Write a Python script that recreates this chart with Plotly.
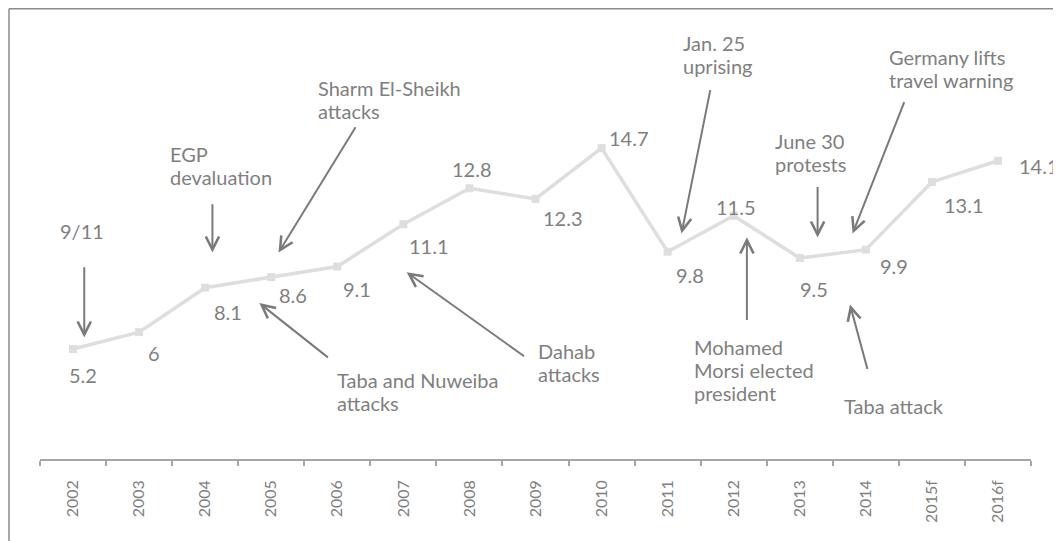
import plotly.graph_objects as go

years = ["2002", "2003", "2004", "2005", "2006", "2007", "2008", "2009",
         "2010", "2011", "2012", "2013", "2014", "2015f", "2016f"]
values = [5.2, 6, 8.1, 8.6, 9.1, 11.1, 12.8, 12.3, 14.7, 9.8, 11.5, 9.5, 9.9, 13.1, 14.1]
value_labels = ["5.2", "6", "8.1", "8.6", "9.1", "11.1", "12.8", "12.3", "14.7",
                "9.8", "11.5", "9.5", "9.9", "13.1", "14.1"]
# label offsets (pixels) relative to each point
label_dx = [10, 15, 23, 22, 20, 26, 3, 27, 27, 22, 2, 14, 28, 32, 41]
label_dy = [-26, -21, -24, -18, -22, -22, 19, -19, 10, -23, 9, -31, -16, -23, -5]

events = [["9/11"], ["EGP", "devaluation"], ["Sharm El-Sheikh", "attacks"],
          ["Taba and Nuweiba", "attacks"], ["Dahab", "attacks"], ["Jan. 25", "uprising"],
          ["Mohamed", "Morsi elected", "president"], ["June 30", "protests"],
          ["Germany lifts", "travel warning"], ["Taba attack"]]
# first-line anchor (x index, y value), xanchor
event_text_pos = [(0.14, 10.8, "center"), (1.43, 14.44, "left"), (3.67, 17.56, "left"),
                  (3.96, 3.73, "left"), (7.0, 5.10, "left"), (9.2, 19.68, "left"),
                  (9.37, 5.29, "left"), (10.59, 15.05, "left"), (12.32, 18.99, "left"),
                  (11.64, 2.49, "left")]
# arrow tail (x, y) and tip (x, y)
event_arrows = [((0.17, 9.14), (0.17, 5.74)), ((2.11, 12.12), (2.11, 9.76)),
                ((4.29, 15.76), (3.11, 9.76)), ((3.88, 4.75), (2.82, 7.37)),
                ((6.85, 4.81), (5.05, 8.83)), ((9.65, 17.51), (9.21, 10.66)),
                ((10.2, 6.5), (10.2, 10.48)), ((11.27, 12.93), (11.27, 10.47)),
                ((12.59, 16.94), (11.8, 10.66)), ((12.03, 4.18), (11.76, 7.3))]

FONT = "Lato"
TXT = "#7f7f7f"
ARROW = "#7a7a7a"
LINE_GAP = 23

fig = go.Figure()
fig.add_trace(go.Scatter(
    x=years, y=values, mode="lines+markers",
    line=dict(color="#dedede", width=3.5),
    marker=dict(symbol="square", size=8, color="#dedede"),
    hoverinfo="skip", showlegend=False,
))

annotations = []
for i, (yr, v, lab) in enumerate(zip(years, values, value_labels)):
    annotations.append(dict(x=i, y=v, xref="x", yref="y", text=lab, showarrow=False,
                            xshift=label_dx[i], yshift=label_dy[i],
                            font=dict(family=FONT, size=20, color=TXT)))

for lines, (tx, ty, anc), (tail, tip) in zip(events, event_text_pos, event_arrows):
    for k, line in enumerate(lines):
        annotations.append(dict(x=tx, y=ty, xref="x", yref="y", text=line, showarrow=False,
                                xanchor=anc, yshift=-LINE_GAP * k,
                                font=dict(family=FONT, size=20, color=TXT)))
    annotations.append(dict(x=tip[0], y=tip[1], ax=tail[0], ay=tail[1],
                            xref="x", yref="y", axref="x", ayref="y", text="",
                            showarrow=True, arrowhead=5, arrowsize=1.3, arrowwidth=2,
                            arrowcolor=ARROW, standoff=0, startstandoff=0))

fig.update_layout(
    width=1053, height=533,
    margin=dict(l=32, r=30, t=28, b=82),
    paper_bgcolor="white", plot_bgcolor="white",
    annotations=annotations,
    xaxis=dict(type="category", showline=True, linecolor="#a6a6a6", linewidth=1.5,
               ticks="outside", ticklen=5, tickcolor="#a6a6a6", tickwidth=1.5,
               tickson="boundaries", tickangle=-90, showgrid=False, zeroline=False,
               ticklabelstandoff=13,
               tickfont=dict(family=FONT, size=16, color=TXT), range=[-0.5, 14.5]),
    yaxis=dict(visible=False, range=[0, 20], showgrid=False, zeroline=False),
    shapes=[
        dict(type="line", xref="paper", yref="paper", x0=-0.0313, x1=-0.0313,
             y0=-0.5, y1=1.0645, line=dict(color="#8c8c8c", width=1.5)),
        dict(type="line", xref="paper", yref="paper", x0=-0.0313, x1=1.2,
             y0=1.0645, y1=1.0645, line=dict(color="#8c8c8c", width=1.5)),
    ],
)

fig.write_html("out.html")
